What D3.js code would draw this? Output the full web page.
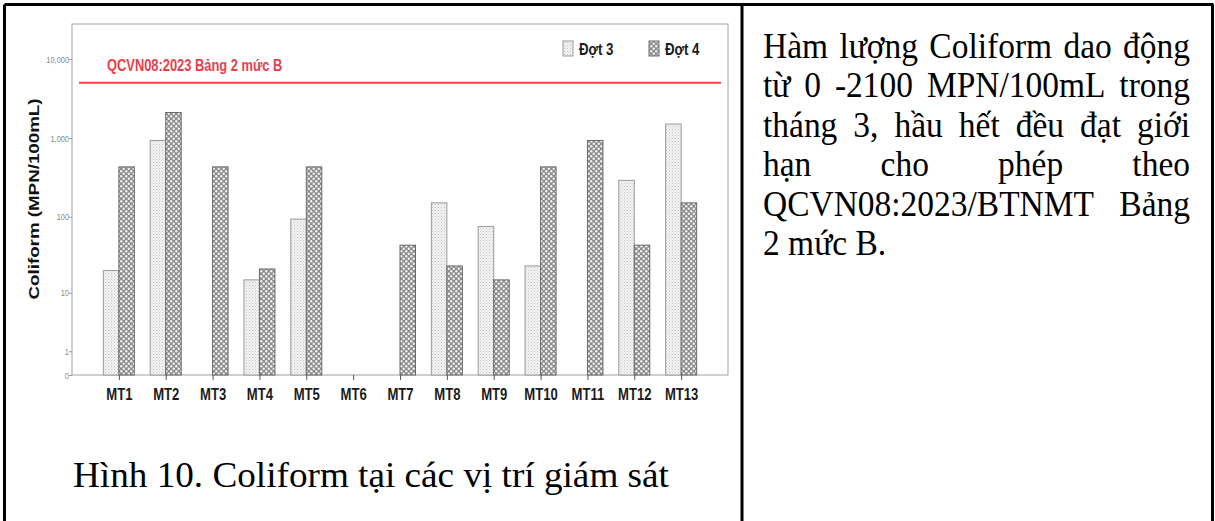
<!DOCTYPE html>
<html>
<head>
<meta charset="utf-8">
<script src="https://cdn.jsdelivr.net/npm/d3@7"></script>
<style>
  body { margin: 0; background: #fff; }
</style>
</head>
<body>
<div id="chart"></div>
<script>
// chart data
var sites = ["MT1", "MT2", "MT3", "MT4", "MT5", "MT6", "MT7", "MT8", "MT9", "MT10", "MT11", "MT12", "MT13"];
var dot3 = [20, 930, 0, 15, 93, 0, 0, 150, 75, 23, 0, 290, 1500];
var dot4 = [430, 2100, 430, 21, 430, 0, 43, 23, 15, 430, 930, 43, 150];
var seriesNames = ["Đợt 3", "Đợt 4"];
var yTicks = [0, 1, 10, 100, 1000, 10000];
var limitValue = 5000;
var limitLabel = "QCVN08:2023 Bảng 2 mức B";
var yTitle = "Coliform (MPN/100mL)";
var caption = "Hình 10. Coliform tại các vị trí giám sát";
var noteLines = [
  "Hàm lượng Coliform dao động",
  "từ 0 -2100 MPN/100mL trong",
  "tháng 3, hầu hết đều đạt giới",
  "hạn cho phép theo",
  "QCVN08:2023/BTNMT Bảng",
  "2 mức B."
];

var svgWidth = 1215;
var svgHeight = 521;

// plot frame
var frame = { left: 72, right: 728, top: 24, bottom: 375 };

var sans = "'Liberation Sans', Arial, sans-serif";
var serif = "'Liberation Serif', 'Times New Roman', serif";

var svg = d3.select("#chart")
  .append("svg")
  .attr("width", svgWidth)
  .attr("height", svgHeight);

// squeeze text horizontally like the stretched picture
function squash(sel, k) {
  sel.each(function() {
    var w = this.getComputedTextLength();
    d3.select(this).attr("textLength", w * k).attr("lengthAdjust", "spacingAndGlyphs");
  });
}

// fill patterns
var defs = svg.append("defs");
var p3 = defs.append("pattern")
  .attr("id", "pat3")
  .attr("width", 3).attr("height", 3)
  .attr("patternUnits", "userSpaceOnUse");
p3.append("rect").attr("width", 3).attr("height", 3).attr("fill", "#f3f3f3");
p3.append("rect").attr("width", 1).attr("height", 1).attr("fill", "#c4c4c4");
p3.append("rect").attr("x", 1.5).attr("y", 1.5).attr("width", 1).attr("height", 1).attr("fill", "#d6d6d6");

var p4 = defs.append("pattern")
  .attr("id", "pat4")
  .attr("width", 5).attr("height", 5)
  .attr("patternUnits", "userSpaceOnUse");
p4.append("rect").attr("width", 5).attr("height", 5).attr("fill", "#8c8c8c");
p4.append("circle").attr("cx", 1.25).attr("cy", 1.25).attr("r", 1.2).attr("fill", "#f2f2f2");
p4.append("circle").attr("cx", 3.75).attr("cy", 3.75).attr("r", 1.2).attr("fill", "#f2f2f2");

var fills = ["url(#pat3)", "url(#pat4)"];
var strokes = ["#9a9a9a", "#6a6a6a"];

// scales
var xScale = d3.scalePoint()
  .domain(sites)
  .range([frame.left, frame.right])
  .padding(1);

var yScale = d3.scaleSymlog()
  .constant(1)
  .domain([0, 10000])
  .range([frame.bottom, 59]);

var barW = 15.5;

// frame
svg.append("rect")
  .attr("x", frame.left)
  .attr("y", frame.top)
  .attr("width", frame.right - frame.left)
  .attr("height", frame.bottom - frame.top)
  .attr("fill", "none")
  .attr("stroke", "#a0a0a0")
  .attr("stroke-width", 1);

// bars (zero values draw nothing)
var series = [dot3, dot4];
series.forEach(function(vals, s) {
  var rows = vals.map(function(v, i) { return { site: sites[i], value: v }; })
    .filter(function(d) { return d.value > 0; });
  svg.append("g")
    .selectAll("rect")
    .data(rows)
    .enter()
    .append("rect")
    .attr("x", d => xScale(d.site) - barW + s * barW)
    .attr("y", d => yScale(d.value))
    .attr("width", barW)
    .attr("height", d => frame.bottom - yScale(d.value))
    .attr("fill", fills[s])
    .attr("stroke", strokes[s])
    .attr("stroke-width", 1);
});

// y axis
var yAxis = d3.axisLeft(yScale)
  .tickValues(yTicks)
  .tickSize(3)
  .tickFormat(d3.format(","));

var yG = svg.append("g")
  .attr("transform", `translate(${frame.left}, 0)`)
  .call(yAxis);
yG.select(".domain").remove();
yG.selectAll("line").attr("stroke", "#999");
yG.selectAll("text")
  .attr("x", -3)
  .attr("fill", "#8a8a8a")
  .style("font-family", sans)
  .style("font-size", "9.5px")
  .call(squash, 0.78);

// x axis
var xAxis = d3.axisBottom(xScale)
  .tickSize(5)
  .tickPadding(4);

var xG = svg.append("g")
  .attr("transform", `translate(0, ${frame.bottom})`)
  .call(xAxis);
xG.select(".domain").remove();
xG.selectAll("line").attr("stroke", "#555");
xG.selectAll("text")
  .attr("y", 25)
  .attr("dy", 0)
  .attr("fill", "#1a1a1a")
  .style("font-family", sans)
  .style("font-size", "17px")
  .style("font-weight", "bold")
  .call(squash, 0.77);

// limit line
svg.append("line")
  .attr("x1", 79)
  .attr("x2", 721)
  .attr("y1", yScale(limitValue))
  .attr("y2", yScale(limitValue))
  .attr("stroke", "#ea4450")
  .attr("stroke-width", 2);

svg.append("text")
  .attr("x", 107)
  .attr("y", 71)
  .attr("fill", "#e83e4a")
  .style("font-family", sans)
  .style("font-size", "16.5px")
  .style("font-weight", "bold")
  .text(limitLabel)
  .call(squash, 0.78);

// y title
svg.append("text")
  .attr("transform", "translate(39, 199) rotate(-90)")
  .style("text-anchor", "middle")
  .attr("fill", "#111")
  .style("font-family", sans)
  .style("font-size", "15px")
  .style("font-weight", "bold")
  .text(yTitle)
  .call(squash, 1.25);

// legend
var legendX = [563, 649];
seriesNames.forEach(function(name, s) {
  svg.append("rect")
    .attr("x", legendX[s])
    .attr("y", 41)
    .attr("width", 10)
    .attr("height", 15)
    .attr("fill", fills[s])
    .attr("stroke", strokes[s]);
  svg.append("text")
    .attr("x", legendX[s] + 16)
    .attr("y", 55)
    .attr("fill", "#1a1a1a")
    .style("font-family", sans)
    .style("font-size", "17px")
    .style("font-weight", "bold")
    .text(name)
    .call(squash, 0.78);
});

// caption
svg.append("text")
  .attr("x", 73)
  .attr("y", 487)
  .attr("fill", "#000")
  .style("font-family", serif)
  .style("font-size", "36px")
  .text(caption)
  .call(squash, 595 / 576);

// right column, justified; glyphs a bit narrow like the source
var noteLeft = 763, noteRight = 1190, noteSx = 0.93;
var noteG = svg.append("g")
  .attr("transform", `translate(${noteLeft}, 0) scale(${noteSx}, 1)`);
var noteW = (noteRight - noteLeft) / noteSx;
noteLines.forEach(function(line, i) {
  var y = 58 + i * 39.5;
  var words = line.split(" ");
  var t = noteG.append("text")
    .attr("y", y)
    .style("font-family", serif)
    .style("font-size", "36px")
    .attr("fill", "#000");
  if (i === noteLines.length - 1) {
    t.attr("x", 0).text(line);
    return;
  }
  var spans = words.map(function(w) { return t.append("tspan").text(w); });
  var widths = spans.map(function(sp) { return sp.node().getComputedTextLength(); });
  var total = d3.sum(widths);
  var gap = (noteW - total) / (words.length - 1);
  var x = 0;
  spans.forEach(function(sp, j) {
    sp.attr("x", x);
    x += widths[j] + gap;
  });
});

// table borders
var border = [
  [4.5, 4.5, 1213.5, 4.5],
  [4.5, 4.5, 4.5, 521],
  [742, 4.5, 742, 521],
  [1212.5, 4.5, 1212.5, 521]
];
svg.selectAll(".border")
  .data(border)
  .enter()
  .append("line")
  .attr("class", "border")
  .attr("x1", d => d[0])
  .attr("y1", d => d[1])
  .attr("x2", d => d[2])
  .attr("y2", d => d[3])
  .attr("stroke", "#000")
  .attr("stroke-width", 3);
</script>
</body>
</html>
